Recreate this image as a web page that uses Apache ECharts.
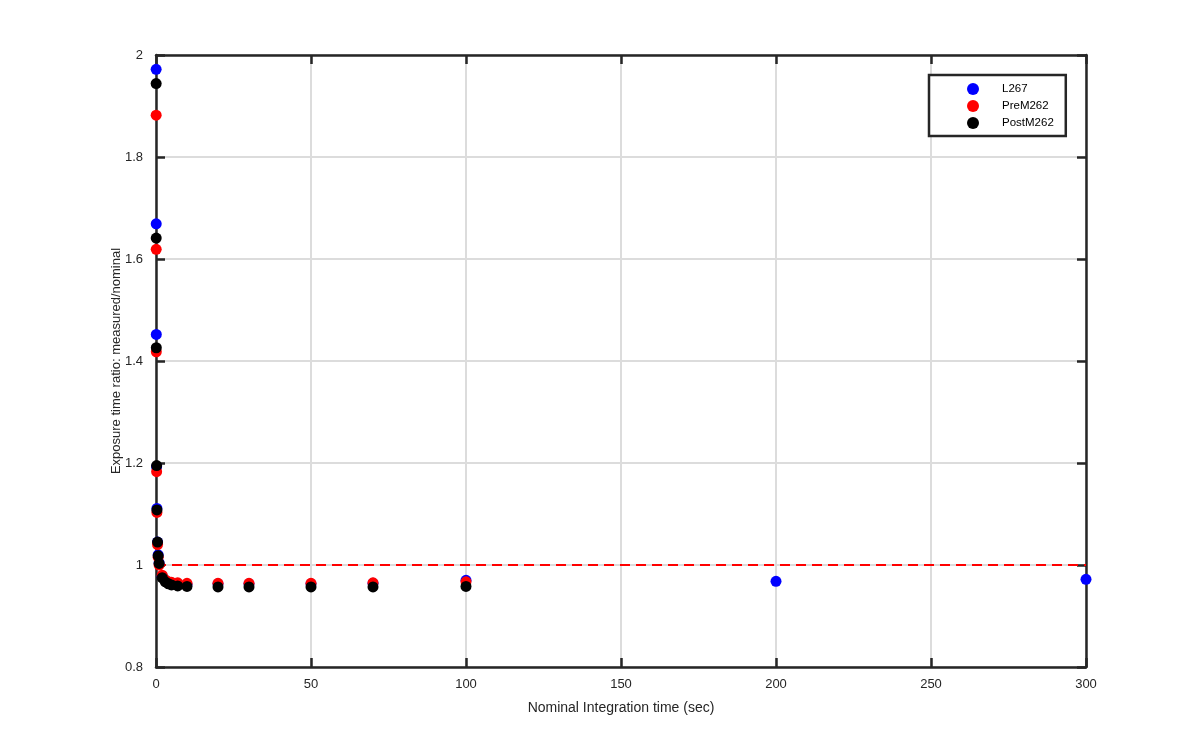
<!DOCTYPE html>
<html>
<head>
<meta charset="utf-8">
<script src="https://cdn.jsdelivr.net/npm/echarts@6/dist/echarts.min.js"></script>
<style>html,body{margin:0;padding:0;background:#fff}#c{width:1200px;height:750px}</style>
</head>
<body>
<div id="c"></div>
<script>
const xL267 = [0.05,0.07,0.1,0.2,0.3,0.5,0.7,1,2,3,4,5,7,10,20,30,50,70,100,200,300];
const yL267 = [1.972,1.669,1.452,1.193,1.111,1.045,1.020,1.004,0.978,0.970,0.966,0.964,0.963,0.962,0.963,0.963,0.963,0.964,0.970,0.968,0.972];
const xM262 = [0.05,0.07,0.1,0.2,0.3,0.5,0.7,1,2,3,4,5,7,10,20,30,50,70,100];
const yPreM262 = [1.882,1.619,1.418,1.183,1.103,1.040,1.015,1.000,0.980,0.971,0.967,0.966,0.965,0.964,0.964,0.964,0.964,0.965,0.967];
const yPostM262 = [1.944,1.641,1.426,1.195,1.108,1.045,1.018,1.003,0.975,0.967,0.963,0.961,0.959,0.958,0.957,0.957,0.957,0.957,0.958];
const refX = [0,300];
const refY = [1,1];
const seriesNames = ['L267','PreM262','PostM262'];
const xLabel = 'Nominal Integration time (sec)';
const yLabel = 'Exposure time ratio: measured/nominal';

const pair = (xs, ys) => xs.map((x,i)=>[x, ys[i]]);
const font = 'Liberation Sans, Arial, sans-serif';
const axisColor = '#262626';

const chart = echarts.init(document.getElementById('c'));
const baseX = {type:'value', min:0, max:300, interval:50};
const baseY = {type:'value', min:0.8, max:2, interval:0.2};
const lineW = 2.5;
chart.setOption({
  animation:false,
  backgroundColor:'#ffffff',
  grid:{left:156, right:114, top:55, bottom:83},
  legend:{
    data: seriesNames.map(n=>({name:n, icon:'circle'})),
    orient:'vertical',
    left:929, top:75,
    itemWidth:12, itemHeight:12, itemGap:5,
    padding:[8,12,7,38],
    borderColor:axisColor, borderWidth:2.5,
    backgroundColor:'#fff',
    textStyle:{fontFamily:font, fontSize:11.5, color:'#000', padding:[0,0,0,18]}
  },
  xAxis:[
    Object.assign({}, baseX, {
      position:'bottom',
      name:xLabel, nameLocation:'middle', nameGap:34, nameMoveOverlap:false,
      nameTextStyle:{fontFamily:font, fontSize:14, color:axisColor},
      axisLine:{show:true, onZero:false, lineStyle:{color:axisColor, width:lineW}},
      axisTick:{show:true, inside:true, length:9, lineStyle:{color:axisColor, width:lineW}},
      axisLabel:{fontFamily:font, fontSize:13, color:axisColor, margin:11},
      splitLine:{show:true, lineStyle:{color:'#dcdcdc', width:2}}
    }),
    Object.assign({}, baseX, {
      position:'top',
      axisLine:{show:true, onZero:false, lineStyle:{color:axisColor, width:lineW}},
      axisTick:{show:true, inside:true, length:9, lineStyle:{color:axisColor, width:lineW}},
      axisLabel:{show:false}, splitLine:{show:false}
    })
  ],
  yAxis:[
    Object.assign({}, baseY, {
      position:'left',
      name:yLabel, nameLocation:'middle', nameGap:33, nameRotate:90, nameMoveOverlap:false,
      nameTextStyle:{fontFamily:font, fontSize:13, color:axisColor},
      axisLine:{show:true, onZero:false, lineStyle:{color:axisColor, width:lineW}},
      axisTick:{show:true, inside:true, length:9, lineStyle:{color:axisColor, width:lineW}},
      axisLabel:{fontFamily:font, fontSize:13, color:axisColor, margin:13,
        formatter:v=>String(Math.round(v*10)/10)},
      splitLine:{show:true, lineStyle:{color:'#dcdcdc', width:2}}
    }),
    Object.assign({}, baseY, {
      position:'right',
      axisLine:{show:true, onZero:false, lineStyle:{color:axisColor, width:lineW}},
      axisTick:{show:true, inside:true, length:9, lineStyle:{color:axisColor, width:lineW}},
      axisLabel:{show:false}, splitLine:{show:false}
    })
  ],
  series:[
    {type:'line', name:'ref', data:pair(refX, refY), symbol:'none', silent:true,
     lineStyle:{color:'#ff0000', width:2, type:[10,6]}, z:2},
    {type:'scatter', name:seriesNames[0], data:pair(xL267,yL267), symbol:'circle', symbolSize:11,
     itemStyle:{color:'#0000ff', opacity:1}, z:3},
    {type:'scatter', name:seriesNames[1], data:pair(xM262,yPreM262), symbol:'circle', symbolSize:11,
     itemStyle:{color:'#ff0000', opacity:1}, z:4},
    {type:'scatter', name:seriesNames[2], data:pair(xM262,yPostM262), symbol:'circle', symbolSize:11,
     itemStyle:{color:'#000000', opacity:1}, z:5}
  ]
});
</script>
</body>
</html>
